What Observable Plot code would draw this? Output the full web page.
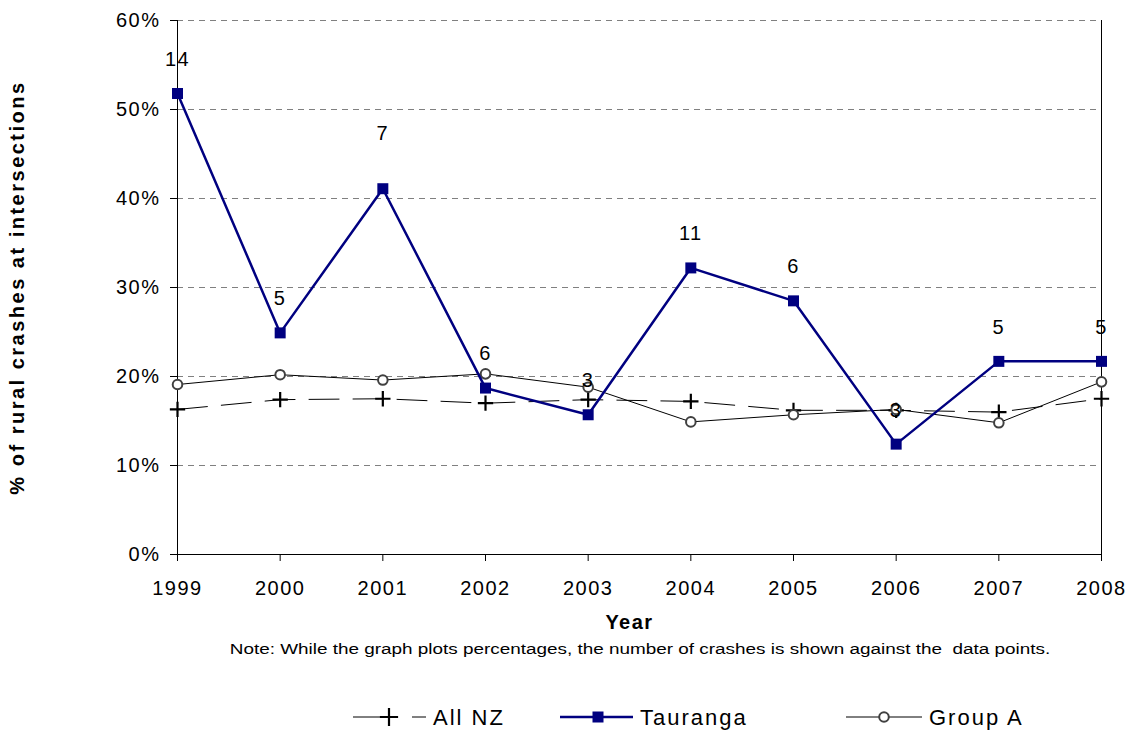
<!DOCTYPE html>
<html>
<head>
<meta charset="utf-8">
<script src="https://cdn.jsdelivr.net/npm/d3@7"></script>
<script src="https://cdn.jsdelivr.net/npm/@observablehq/plot@0.6"></script>
<style>
  html, body { margin: 0; padding: 0; background: #fff; }
  body { position: relative; width: 1131px; height: 737px; font-family: "Liberation Sans", Arial, sans-serif; }
  #chart { position: absolute; left: 0; top: 0; }
  #chart svg text { letter-spacing: 1.5px; }
  #chart svg .ytitle text { letter-spacing: 2.5px; }
  #note { position: absolute; top: 641px; left: 640px; white-space: nowrap; font-size: 14px; color: #000; transform: translateX(-50%) scaleX(1.35); transform-origin: center; }
  #legend { position: absolute; left: 0; top: 690px; }
  #legend text { letter-spacing: 2px; }
</style>
</head>
<body>
<div id="chart"></div>
<div id="note">Note: While the graph plots percentages, the number of crashes is shown against the&nbsp; data points.</div>
<div id="legend"></div>
<script>
// ---- data ----
const years = [1999, 2000, 2001, 2002, 2003, 2004, 2005, 2006, 2007, 2008];
const allNZ = [0.163, 0.174, 0.175, 0.170, 0.174, 0.172, 0.162, 0.162, 0.160, 0.175];
const tauranga = [0.518, 0.249, 0.411, 0.187, 0.157, 0.322, 0.285, 0.124, 0.217, 0.217];
const groupA = [0.191, 0.202, 0.196, 0.203, 0.188, 0.149, 0.157, 0.163, 0.148, 0.194];
const crashCounts = [14, 5, 7, 6, 3, 11, 6, 3, 5, 5];
const yTicks = [0, 0.1, 0.2, 0.3, 0.4, 0.5, 0.6];
const seriesNames = ["All NZ", "Tauranga", "Group A"];
const yTitle = "% of rural crashes at intersections";
const xTitle = "Year";

// ---- build tables ----
const nzData = years.map((y, i) => ({year: y, value: allNZ[i]}));
const taurangaData = years.map((y, i) => ({year: y, value: tauranga[i], count: crashCounts[i]}));
const groupAData = years.map((y, i) => ({year: y, value: groupA[i]}));
// label offsets (layout only)
const labelDy = {2001: -55};

const navy = "#000080";
const chart = Plot.plot({
  width: 1131,
  height: 640,
  marginLeft: 177,
  marginRight: 30,
  marginTop: 20,
  marginBottom: 86,
  style: {fontFamily: "'Liberation Sans', Arial, sans-serif", fontSize: "20px", color: "#000", background: "#fff"},
  x: {domain: [1999, 2008]},
  y: {domain: [0, 0.6]},
  marks: [
    Plot.ruleY(yTicks.filter(d => d > 0), {stroke: "#808080", strokeDasharray: "6,5", strokeWidth: 1}),
    Plot.ruleY([0], {stroke: "#000"}),
    Plot.ruleX([1999, 2008], {stroke: "#000"}),
    Plot.axisY({ticks: yTicks, tickFormat: d => Math.round(d * 100) + "%", tickSize: 7, tickPadding: 10, label: null, fontSize: 20}),
    Plot.axisX({ticks: years, tickFormat: d => String(d), tickSize: 7, tickPadding: 19, label: null, fontSize: 20}),
    Plot.text([yTitle], {frameAnchor: "left", dx: -160, rotate: -90, textAnchor: "middle", lineAnchor: "middle", fontWeight: "bold", fontSize: 20, className: "ytitle"}),
    Plot.text([xTitle], {frameAnchor: "bottom", dy: 68, dx: -10, lineAnchor: "middle", fontWeight: "bold", fontSize: 20}),
    // All NZ
    Plot.line(nzData, {x: "year", y: "value", stroke: "#000", strokeWidth: 1, strokeDasharray: "30,14"}),
    Plot.dot(nzData, {x: "year", y: "value", symbol: "plus", r: 5, stroke: "#000", strokeWidth: 2.2}),
    // Group A
    Plot.line(groupAData, {x: "year", y: "value", stroke: "#000", strokeWidth: 1}),
    Plot.dot(groupAData, {x: "year", y: "value", symbol: "circle", r: 4.8, stroke: "#404040", fill: "#fff", strokeWidth: 2}),
    // Tauranga
    Plot.line(taurangaData, {x: "year", y: "value", stroke: navy, strokeWidth: 2.5}),
    Plot.dot(taurangaData, {x: "year", y: "value", symbol: "square", r: 6.2, fill: navy, stroke: navy, strokeWidth: 0}),
    ...taurangaData.map(d => Plot.text([d], {x: "year", y: "value", text: "count", dy: labelDy[d.year] ?? -34, fontSize: 20, fill: "#000"}))
  ]
});
document.getElementById("chart").appendChild(chart);

// ---- legend ----
const lg = d3.select("#legend").append("svg").attr("width", 1131).attr("height", 47)
  .style("font-family", "'Liberation Sans', Arial, sans-serif");
const cy = 27;
const items = [
  {x0: 353, x1: 426, mx: 389, tx: 433},
  {x0: 560, x1: 633, mx: 598, tx: 640},
  {x0: 846, x1: 922, mx: 884, tx: 929}
];
// All NZ
lg.append("line").attr("x1", items[0].x0).attr("x2", items[0].x1).attr("y1", cy).attr("y2", cy)
  .attr("stroke", "#000").attr("stroke-width", 1).attr("stroke-dasharray", "29,30");
lg.append("path").attr("d", d3.symbol(d3.symbolPlus, 110)()).attr("transform", `translate(${items[0].mx},${cy})`)
  .attr("fill", "none").attr("stroke", "#000").attr("stroke-width", 2.2);
// Tauranga
lg.append("line").attr("x1", items[1].x0).attr("x2", items[1].x1).attr("y1", cy).attr("y2", cy)
  .attr("stroke", navy).attr("stroke-width", 2.5);
lg.append("rect").attr("x", items[1].mx - 5.5).attr("y", cy - 5.5).attr("width", 11).attr("height", 11).attr("fill", navy);
// Group A
lg.append("line").attr("x1", items[2].x0).attr("x2", items[2].x1).attr("y1", cy).attr("y2", cy)
  .attr("stroke", "#000").attr("stroke-width", 1);
lg.append("circle").attr("cx", items[2].mx).attr("cy", cy).attr("r", 4.8).attr("fill", "#fff").attr("stroke", "#404040").attr("stroke-width", 2);
items.forEach((it, i) => {
  lg.append("text").attr("x", it.tx).attr("y", cy).attr("dy", "0.35em").attr("font-size", 22).text(seriesNames[i]);
});
</script>
</body>
</html>
